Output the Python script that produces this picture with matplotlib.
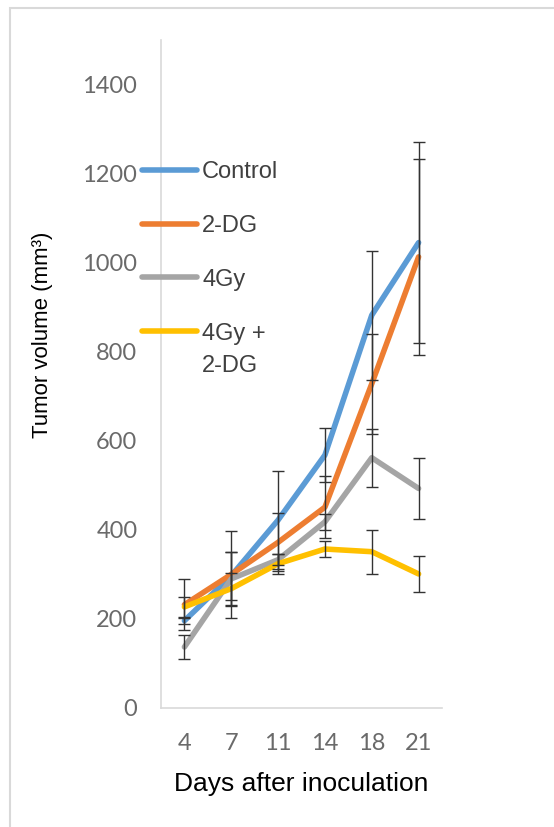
import matplotlib
matplotlib.use('Agg')
import matplotlib.pyplot as plt
from matplotlib.patches import Rectangle
import numpy as np

days = ['4', '7', '11', '14', '18', '21']
control = [196, 297, 422, 568, 882, 1045]
control_err = [7, 54, 110, 60, 145, 225]
dg = [232, 300, 372, 451, 728, 1013]
dg_err = [57, 98, 65, 70, 112, 220]
gy = [137, 290, 333, 418, 562, 493]
gy_err = [27, 60, 13, 18, 65, 69]
gy_dg = [227, 268, 324, 357, 351, 301]
gy_dg_err = [23, 36, 22, 17, 49, 41]

names = ['Control', '2-DG', '4Gy', '4Gy +\n2-DG']
colors = ['#5B9BD5', '#ED7D31', '#A5A5A5', '#FFC000']
series = [control, dg, gy, gy_dg]
errors = [control_err, dg_err, gy_err, gy_dg_err]

plt.rcParams['font.family'] = ['Liberation Sans', 'DejaVu Sans']

W, H = 554, 827
fig = plt.figure(figsize=(W / 100, H / 100), dpi=100)
ax = fig.add_axes([161 / W, 1 - 708 / H, (442 - 161) / W, (708 - 40) / H])

# outer chart frame (only left/top visible in the crop)
fig.patches.append(Rectangle((10 / W, -0.1), 1.2, 1 - 8 / H + 0.1, transform=fig.transFigure,
                             fill=False, edgecolor='#d9d9d9', lw=1.5))

x = np.arange(len(days))
for vals, errs, c, n in zip(series, errors, colors, names):
    ax.plot(x, vals, color=c, lw=4, label=n, solid_capstyle='round', zorder=2)
for vals, errs in zip(series, errors):
    ax.errorbar(x, vals, yerr=errs, fmt='none', ecolor='#333333', elinewidth=1,
                capsize=4.5, capthick=1, zorder=3)

ax.set_xlim(-0.5, len(days) - 0.5)
ax.set_ylim(0, 1500)
ax.set_yticks(range(0, 1401, 200))
ax.set_xticks(x)
ax.set_xticklabels(days)
ax.tick_params(length=0, labelsize=17, labelcolor='#6a6a6a')
ax.tick_params(axis='y', pad=17)
ax.tick_params(axis='x', pad=18)
for lab in ax.get_xticklabels() + ax.get_yticklabels():
    lab.set_fontfamily(['Lato', 'DejaVu Sans'])
for s in ['top', 'right']:
    ax.spines[s].set_visible(False)
for s in ['left', 'bottom']:
    ax.spines[s].set_color('#d9d9d9')
    ax.spines[s].set_linewidth(1.2)

ax.set_ylabel('Tumor volume (mm³)', fontsize=16, color='black')
ax.yaxis.set_label_coords(-0.385, 0.558)
ax.set_xlabel('Days after inoculation', fontsize=19, color='black', labelpad=13)

leg = fig.legend(loc='upper left', bbox_to_anchor=(142 / W, 1 - 161 / H), frameon=False,
                 fontsize=17, handlelength=2.35, handletextpad=0.2, labelspacing=1.35,
                 borderpad=0, borderaxespad=0, labelcolor='#404040')
for t in leg.get_texts():
    t.set_linespacing(1.6)
lines = leg.get_lines()
for ln in lines:
    ln.set_linewidth(4)
    ln.set_solid_capstyle('round')
# keep last handle level with first text line
last = lines[-1]
last.set_ydata(np.array(last.get_ydata()) + 14)

fig.savefig('out.png', dpi=100)
